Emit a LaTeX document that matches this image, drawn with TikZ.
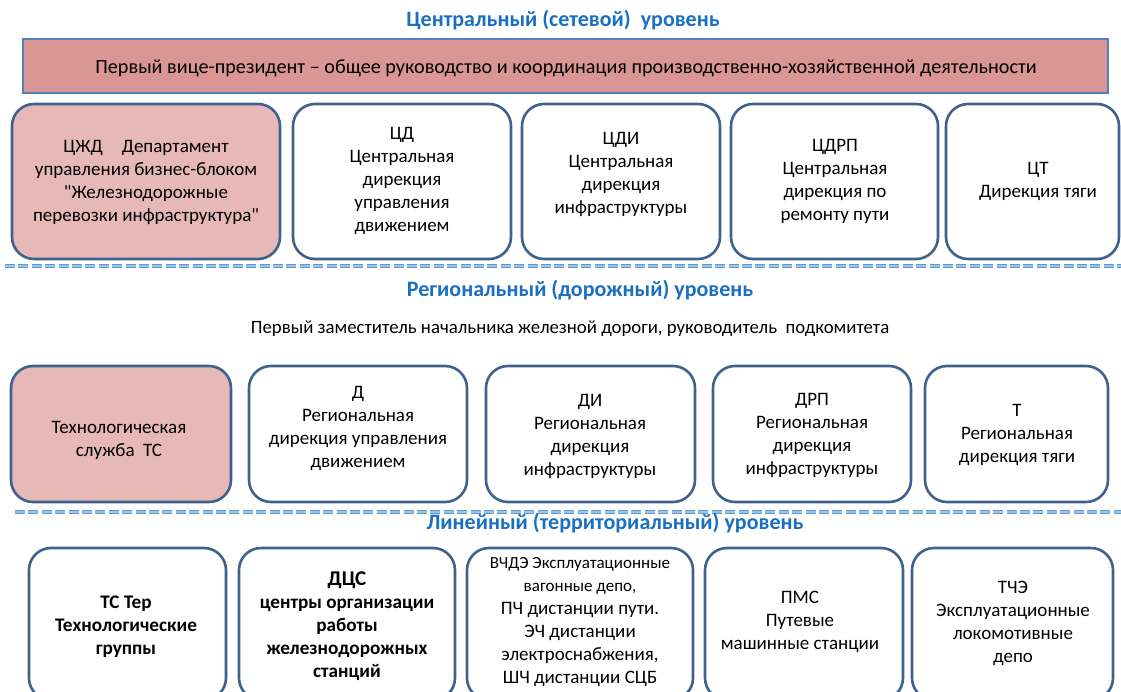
\documentclass[tikz,border=0pt]{standalone}
\usepackage{fontspec}
\setmainfont{Carlito}[Ligatures=TeXOff]
\definecolor{boxline}{HTML}{3E618E}
\definecolor{pinkfill}{HTML}{E6B8B7}
\definecolor{barfill}{HTML}{D99694}
\definecolor{barline}{HTML}{4F81BD}
\definecolor{titleblue}{HTML}{1A6FC0}
\definecolor{dashdark}{HTML}{5B9BD5}
\definecolor{dashlight}{HTML}{9CC4E8}
\begin{document}
\begin{tikzpicture}[x=1pt,y=-1pt,
  unitbox/.style={draw=boxline, line width=2.6pt, rounded corners=22pt, fill=white, inner sep=0pt, outer sep=0pt},
  pinkbox/.style={unitbox, fill=pinkfill},
  boxtext/.style={align=center, inner sep=0pt, font=\fontsize{19}{23}\selectfont},
  boldtext/.style={boxtext, font=\fontsize{19.2}{23}\selectfont\bfseries},
  leveltitle/.style={inner sep=0pt, text=titleblue, font=\fontsize{22}{26}\selectfont\bfseries},
  plaintext/.style={inner sep=0pt, font=\fontsize{18.8}{22}\selectfont},
  levelrule/.style={line width=4.5pt, draw=dashdark, dash pattern=on 10pt off 3.4pt},
  levelrulehi/.style={line width=1.4pt, draw=dashlight, dash pattern=on 10pt off 3.4pt}
]
\useasboundingbox (0,0) rectangle (1121,691);
\clip (0,0) rectangle (1121,691);

% box from corner coordinates: name, style, x1, y1, x2, y2
\newcommand\orgbox[6]{%
  \node[#2, minimum width={#5-#3}, minimum height={#6-#4}] (#1) at ({(#3+#5)/2},{(#4+#6)/2}) {};}

% ---------- central level ----------
\node[leveltitle] (t1) at (563,20) {Центральный (сетевой)\ \ уровень};
\node[draw=barline, fill=barfill, line width=2.4pt, inner sep=0pt, minimum width=1085, minimum height=54] (bar) at (565.5,66) {};
\node[inner sep=0pt, font=\fontsize{20.2}{24}\selectfont] (bartext) at (566,68) {Первый вице-президент – общее руководство и координация производственно-хозяйственной деятельности};

\orgbox{b11}{pinkbox}{12}{104}{280}{259}
\orgbox{b12}{unitbox}{293}{104}{511}{259}
\orgbox{b13}{unitbox}{522}{104}{720}{259}
\orgbox{b14}{unitbox}{731}{104}{938}{259}
\orgbox{b15}{unitbox}{946}{104}{1119}{259}

\node[boxtext] (b11t) at (146,182) {ЦЖД\quad Департамент\\управления бизнес-блоком\\"Железнодорожные\\перевозки инфраструктура"};
\node[boxtext] (b12t) at (402,181) {ЦД\\Центральная\\дирекция\\управления\\движением};
\node[boxtext] (b13t) at (621,174) {ЦДИ\\Центральная\\дирекция\\инфраструктуры};
\node[boxtext] (b14t) at (835,181) {ЦДРП\\Центральная\\дирекция по\\ремонту пути};
\node[boxtext] (b15t) at (1038,181) {ЦТ\\Дирекция тяги};

\draw[levelrule] (5,266) -- (1121,266);
\draw[levelrulehi] (5,266) -- (1121,266);

% ---------- regional level ----------
\node[leveltitle] (t2) at (580,290) {Региональный (дорожный) уровень};
\node[plaintext] (sub2) at (570,329) {Первый заместитель начальника железной дороги, руководитель\ \ подкомитета};

\orgbox{b21}{pinkbox}{11}{366}{231}{502}
\orgbox{b22}{unitbox}{249}{366}{467}{502}
\orgbox{b23}{unitbox}{486}{366}{695}{502}
\orgbox{b24}{unitbox}{713}{366}{911}{502}
\orgbox{b25}{unitbox}{925}{366}{1108}{502}

\node[boxtext] (b21t) at (119,440) {Технологическая\\служба\ \ ТС};
\node[boxtext] (b22t) at (358,428) {Д\\Региональная\\дирекция управления\\движением};
\node[boxtext] (b23t) at (590,436) {ДИ\\Региональная\\дирекция\\инфраструктуры};
\node[boxtext] (b24t) at (812,435) {ДРП\\Региональная\\дирекция\\инфраструктуры};
\node[boxtext] (b25t) at (1017,435) {Т\\Региональная\\дирекция тяги};

\draw[levelrule] (15,512) -- (1121,512);
\draw[levelrulehi] (15,512) -- (1121,512);

% ---------- linear level ----------
\node[leveltitle] (t3) at (615,523) {Линейный (территориальный) уровень};

\orgbox{b31}{unitbox}{29}{548}{226}{700}
\orgbox{b32}{unitbox}{239}{548}{455}{700}
\orgbox{b33}{unitbox}{467}{548}{693}{700}
\orgbox{b34}{unitbox}{705}{548}{903}{700}
\orgbox{b35}{unitbox}{912}{548}{1113}{700}

\node[boldtext] (b31t) at (126,627) {ТС Тер\\Технологические\\группы};
\node[boldtext] (b32t) at (347,626) {{\fontsize{21}{23}\selectfont ДЦС}\\центры организации\\работы\\железнодорожных\\станций};
\node[boxtext] (b33t) at (580,622) {{\fontsize{17}{21}\selectfont ВЧДЭ Эксплуатационные}\\{\fontsize{17}{22}\selectfont вагонные депо,}\\ПЧ дистанции пути.\\ЭЧ дистанции\\электроснабжения,\\ШЧ дистанции СЦБ};
\node[boxtext] (b34t) at (800,622) {ПМС\\Путевые\\машинные станции};
\node[boxtext] (b35t) at (1013,623) {ТЧЭ\\Эксплуатационные\\локомотивные\\депо};
\end{tikzpicture}
\end{document}
